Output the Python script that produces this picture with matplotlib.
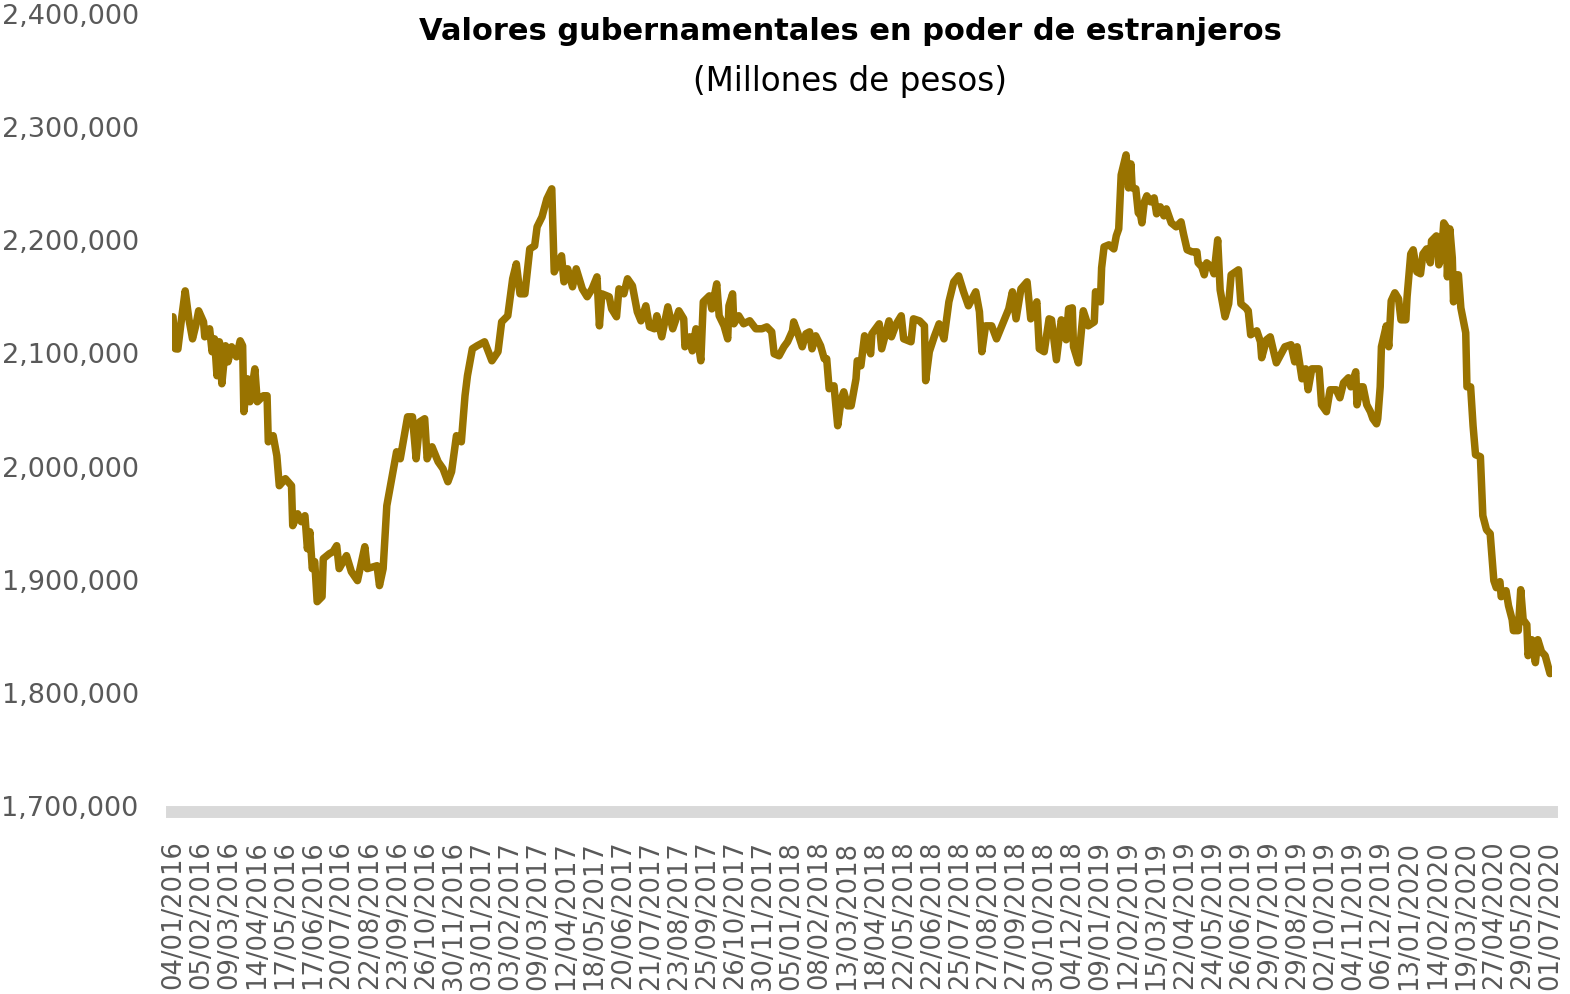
import numpy as np
import matplotlib
matplotlib.use("Agg")
import matplotlib.pyplot as plt
from matplotlib.ticker import FuncFormatter

# Etiquetas del eje de categorias (una cada 23 dias habiles)
etiquetas_fecha = [
    "04/01/2016", "05/02/2016", "09/03/2016", "14/04/2016", "17/05/2016", "17/06/2016",
    "20/07/2016", "22/08/2016", "23/09/2016", "26/10/2016", "30/11/2016",
    "03/01/2017", "03/02/2017", "09/03/2017", "12/04/2017", "18/05/2017", "20/06/2017",
    "21/07/2017", "23/08/2017", "25/09/2017", "26/10/2017", "30/11/2017",
    "05/01/2018", "08/02/2018", "13/03/2018", "18/04/2018", "22/05/2018", "22/06/2018",
    "25/07/2018", "27/08/2018", "27/09/2018", "30/10/2018", "04/12/2018",
    "09/01/2019", "12/02/2019", "15/03/2019", "22/04/2019", "24/05/2019", "26/06/2019",
    "29/07/2019", "29/08/2019", "02/10/2019", "04/11/2019", "06/12/2019",
    "13/01/2020", "14/02/2020", "19/03/2020", "27/04/2020", "29/05/2020", "01/07/2020",
]
intervalo_etiquetas = 23

# Dia habil (posicion en la serie) de cada observacion leida
dia = [
    0, 2, 4, 7, 10, 13, 16, 19, 21, 25, 26, 30, 32, 34, 36, 38, 40, 43, 45, 48,
    52, 55, 57, 58, 61, 63, 67, 69, 74, 77, 78, 82, 85, 87, 92, 97, 98, 102, 105, 108,
    110, 112, 114, 116, 118, 122, 123, 128, 131, 134, 136, 142, 146, 151, 157, 159, 167, 169, 172, 175,
    180, 183, 186, 192, 196, 199, 202, 206, 208, 212, 217, 221, 225, 228, 232, 236, 239, 241, 245, 249,
    255, 261, 266, 269, 274, 278, 281, 284, 288, 292, 296, 298, 302, 306, 310, 312, 318, 320, 323, 327,
    330, 335, 339, 343, 347, 349, 351, 357, 359, 363, 365, 369, 372, 376, 380, 383, 387, 390, 394, 396,
    400, 405, 409, 414, 418, 419, 423, 425, 428, 432, 434, 439, 441, 445, 447, 451, 454, 455, 458, 459,
    463, 467, 472, 477, 482, 486, 490, 492, 496, 500, 503, 507, 508, 511, 515, 518, 521, 523, 526, 530,
    533, 535, 537, 541, 544, 547, 549, 552, 555, 559, 560, 563, 566, 571, 572, 578, 580, 586, 588, 592,
    596, 598, 604, 606, 611, 615, 616, 619, 623, 627, 631, 635, 639, 643, 647, 651, 657, 660, 662, 665,
    670, 674, 680, 684, 687, 690, 694, 699, 702, 707, 709, 713, 717, 719, 723, 727, 731, 733, 736, 737,
    741, 745, 749, 754, 755, 759, 760, 762, 766, 770, 772, 774, 776, 780, 782, 784, 785, 788, 790, 792,
    793, 795, 797, 800, 803, 805, 808, 811, 813, 817, 821, 825, 827, 830, 834, 838, 839, 842, 844, 846,
    850, 852, 855, 857, 861, 864, 866, 872, 874, 878, 880, 882, 887, 890, 891, 895, 898, 901, 903, 907,
    910, 915, 918, 920, 924, 927, 929, 932, 938, 940, 944, 947, 952, 955, 958, 962, 964, 968, 969, 972,
    974, 977, 980, 982, 985, 986, 988, 989, 993, 995, 997, 1000, 1003, 1005, 1009, 1010, 1013, 1015, 1018, 1021,
    1023, 1026, 1029, 1030, 1034, 1036, 1038, 1040, 1042, 1043, 1045, 1047, 1048, 1050, 1052, 1054, 1058, 1059, 1062, 1064,
    1066, 1070, 1072, 1075, 1078, 1081, 1083, 1086, 1087, 1091, 1093, 1096, 1097, 1101, 1103, 1105, 1108, 1109, 1112, 1115,
    1117, 1120, 1123, 1127,
]

# Valores en miles de millones de pesos (se multiplican por 1000 al graficar)
valores_miles = [
    2131.5, 2103.2, 2103.0, 2129.7, 2154.4, 2129.7, 2112.0, 2125.3, 2136.8, 2127.0, 2113.8, 2120.9, 2100.6, 2112.0, 2079.4, 2109.4, 2072.3, 2105.9, 2091.7, 2105.0,
    2096.1, 2110.3, 2105.9, 2047.6, 2076.7, 2056.4, 2085.5, 2056.4, 2061.7, 2061.7, 2021.0, 2026.4, 2008.7, 1982.2, 1988.4, 1982.2, 1946.9, 1957.4, 1950.4, 1955.7,
    1926.5, 1941.5, 1908.9, 1915.1, 1879.7, 1884.1, 1917.7, 1922.1, 1923.9, 1929.2, 1908.9, 1920.4, 1906.2, 1898.3, 1928.3, 1908.9, 1911.5, 1893.9, 1908.9, 1964.5,
    1994.6, 2012.2, 2006.0, 2043.1, 2043.1, 2006.0, 2038.7, 2041.4, 2006.0, 2016.6, 2003.4, 1997.2, 1985.7, 1994.6, 2026.4, 2021.0, 2061.7, 2079.4, 2103.2, 2105.9,
    2109.4, 2092.6, 2100.6, 2127.0, 2132.4, 2165.1, 2178.3, 2151.8, 2151.8, 2191.5, 2194.2, 2211.0, 2219.8, 2235.7, 2244.6, 2171.2, 2185.4, 2162.4, 2173.9, 2158.0,
    2173.9, 2156.2, 2149.2, 2156.2, 2166.8, 2123.5, 2151.8, 2149.2, 2138.5, 2131.5, 2156.2, 2151.8, 2165.1, 2158.9, 2135.9, 2127.9, 2141.2, 2122.6, 2120.9, 2132.4,
    2113.8, 2140.3, 2120.9, 2136.8, 2129.7, 2105.0, 2113.8, 2101.4, 2120.9, 2092.6, 2144.7, 2150.0, 2138.5, 2160.6, 2132.4, 2123.5, 2112.0, 2141.2, 2151.8, 2125.3,
    2132.4, 2125.3, 2128.0, 2120.9, 2120.9, 2122.6, 2118.2, 2098.8, 2097.0, 2105.0, 2109.4, 2119.1, 2127.0, 2118.2, 2105.0, 2116.5, 2118.2, 2103.2, 2114.7, 2105.9,
    2094.4, 2094.4, 2067.9, 2070.5, 2035.2, 2059.1, 2065.2, 2052.8, 2052.8, 2076.7, 2092.6, 2088.2, 2114.7, 2098.8, 2116.5, 2125.3, 2103.2, 2127.9, 2113.8, 2125.3,
    2132.4, 2112.0, 2109.4, 2129.7, 2127.9, 2123.5, 2075.0, 2100.6, 2113.8, 2125.3, 2112.0, 2144.7, 2162.4, 2167.7, 2153.6, 2141.2, 2153.6, 2136.0, 2100.6, 2123.5,
    2123.5, 2112.0, 2127.9, 2138.5, 2153.6, 2129.7, 2156.2, 2162.4, 2129.7, 2144.7, 2103.2, 2100.6, 2129.7, 2128.8, 2093.5, 2128.8, 2111.2, 2138.5, 2139.4, 2105.0,
    2090.8, 2136.8, 2123.5, 2127.0, 2153.6, 2144.7, 2174.8, 2193.3, 2195.1, 2191.5, 2203.0, 2209.2, 2256.9, 2274.6, 2245.4, 2266.6, 2245.4, 2244.6, 2223.4, 2220.7,
    2214.5, 2233.1, 2238.4, 2233.1, 2236.6, 2222.5, 2228.7, 2220.7, 2226.9, 2214.5, 2211.0, 2215.4, 2204.8, 2190.7, 2188.9, 2188.9, 2179.2, 2175.6, 2168.6, 2179.2,
    2175.6, 2169.5, 2199.5, 2155.3, 2131.5, 2143.0, 2168.6, 2173.0, 2143.0, 2139.4, 2136.8, 2115.6, 2119.1, 2109.4, 2095.3, 2111.2, 2113.8, 2099.7, 2090.8, 2098.8,
    2105.0, 2106.8, 2091.7, 2105.0, 2076.7, 2085.5, 2067.0, 2085.5, 2085.5, 2053.7, 2047.6, 2067.0, 2067.0, 2059.9, 2073.2, 2077.6, 2069.6, 2082.9, 2053.7, 2069.6,
    2069.6, 2053.7, 2047.6, 2041.4, 2036.9, 2041.4, 2069.6, 2105.0, 2123.5, 2105.0, 2145.6, 2152.7, 2147.4, 2128.8, 2128.8, 2149.2, 2187.1, 2190.7, 2171.2, 2169.5,
    2187.1, 2191.5, 2179.2, 2198.6, 2203.0, 2177.4, 2183.6, 2214.5, 2211.0, 2166.8, 2209.2, 2183.6, 2144.7, 2168.6, 2168.6, 2139.4, 2117.4, 2069.6, 2069.6, 2035.2,
    2009.6, 2007.8, 1955.7, 1943.3, 1939.8, 1898.3, 1892.1, 1897.4, 1884.1, 1889.4, 1876.2, 1863.8, 1854.1, 1854.1, 1890.3, 1863.8, 1859.4, 1832.0, 1846.1, 1825.8,
    1846.1, 1835.5, 1832.0, 1816.1,
]

titulo = "Valores gubernamentales en poder de estranjeros"
subtitulo = "(Millones de pesos)"


def graficar(salida="out.png"):
    valores = np.array(valores_miles) * 1000
    posiciones_etiquetas = np.arange(len(etiquetas_fecha)) * intervalo_etiquetas

    fig = plt.figure(figsize=(15.7, 9.95), dpi=100)
    ax = fig.add_axes([172 / 1570, 189 / 995, 1380 / 1570, 792 / 995])

    ax.plot(dia, valores, color="#997300", linewidth=5.4,
            solid_joinstyle="round", solid_capstyle="round")

    ax.set_xlim(-0.8, 1128.6)
    ax.set_ylim(1700000, 2400000)
    ax.set_yticks(np.arange(1700000, 2400001, 100000))
    ax.yaxis.set_major_formatter(FuncFormatter(lambda v, p: f"{v:,.0f}"))

    ax.tick_params(axis="y", length=0, pad=24, labelsize=19.5, labelcolor="#595959")
    ax.tick_params(axis="x", length=0, pad=20, labelsize=18.5, labelcolor="#595959",
                   labelrotation=90)
    ax.set_xticks(posiciones_etiquetas)
    ax.set_xticklabels(etiquetas_fecha)
    for etiqueta in ax.get_xticklabels():
        etiqueta.set_rotation(90)
        etiqueta.set_ha("center")
        etiqueta.set_va("top")

    for lado in ["top", "right", "left"]:
        ax.spines[lado].set_visible(False)
    # barra gris del eje de categorias
    ax.spines["bottom"].set_position(("outward", 5))
    ax.spines["bottom"].set_color("#D9D9D9")
    ax.spines["bottom"].set_linewidth(8.6)

    fig.text(850 / 1570, 1 - 31 / 995, titulo, ha="center", va="center",
             fontsize=22, fontweight="bold", color="black")
    fig.text(850 / 1570, 1 - 81 / 995, subtitulo, ha="center", va="center",
             fontsize=23.5, color="black")

    fig.savefig(salida, dpi=100, facecolor="white")
    plt.close(fig)


if __name__ == "__main__":
    assert len(dia) == len(valores_miles)
    graficar()
